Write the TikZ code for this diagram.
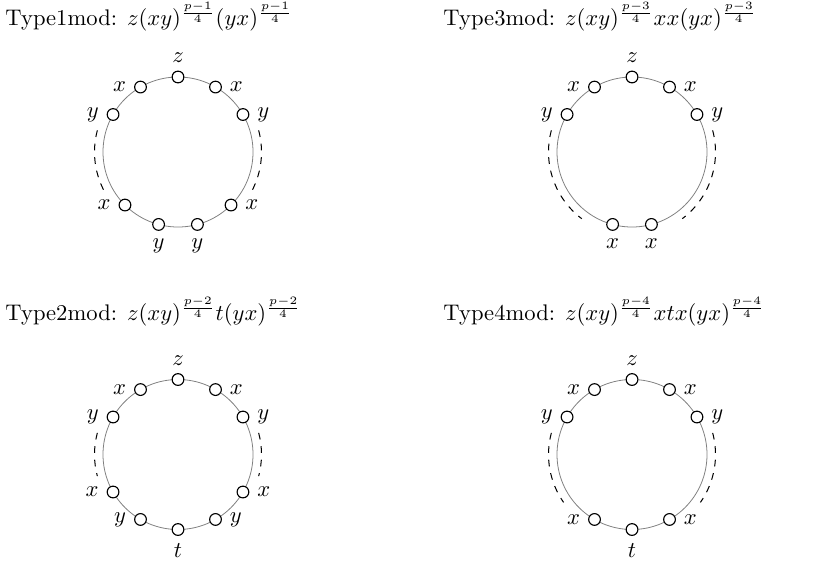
\documentclass[tikz,border=0pt]{standalone}
\begin{document}
\begin{tikzpicture}[x=0.443pt,y=0.443pt,
  vert/.style={circle,draw=black,fill=white,line width=0.5pt,minimum size=5.2pt,inner sep=0pt},
  ring/.style={draw=gray,line width=0.35pt},
  dasharc/.style={draw=black,dashed,line width=0.45pt},
  title/.style={anchor=north west,inner sep=0pt}]
\useasboundingbox (0,0) rectangle (818,565);
\def\R{75}
\def\D{83.5}
% ---------- Type 1 ----------
\node[title] (t1) at (5,563) {Type1mod: $z(xy)^{\frac{p-1}{4}}(yx)^{\frac{p-1}{4}}$};
\coordinate (A) at (178,413);
\draw[ring] (A) circle[radius=\R];
\draw[dasharc] ([shift={(165:\D)}]A) arc[start angle=165,end angle=210,radius=\D];
\draw[dasharc] ([shift={(15:\D)}]A) arc[start angle=15,end angle=-30,radius=\D];
\node[vert,label=above:$z$] (A0) at ([shift={(90:\R)}]A) {};
\node[vert,label=left:$x$] (A1) at ([shift={(120:\R)}]A) {};
\node[vert,label=left:$y$] (A2) at ([shift={(150:\R)}]A) {};
\node[vert,label=right:$x$] (A3) at ([shift={(60:\R)}]A) {};
\node[vert,label=right:$y$] (A4) at ([shift={(30:\R)}]A) {};
\node[vert,label=left:$x$] (A5) at ([shift={(-135:\R)}]A) {};
\node[vert,label=below:$y$] (A6) at ([shift={(-105:\R)}]A) {};
\node[vert,label=below:$y$] (A7) at ([shift={(-75:\R)}]A) {};
\node[vert,label=right:$x$] (A8) at ([shift={(-45:\R)}]A) {};
% ---------- Type 3 ----------
\node[title] (t3) at (443,563) {Type3mod: $z(xy)^{\frac{p-3}{4}}xx(yx)^{\frac{p-3}{4}}$};
\coordinate (B) at (632,413);
\draw[ring] (B) circle[radius=\R];
\draw[dasharc] ([shift={(165:\D)}]B) arc[start angle=165,end angle=233,radius=\D];
\draw[dasharc] ([shift={(15:\D)}]B) arc[start angle=15,end angle=-53,radius=\D];
\node[vert,label=above:$z$] (B0) at ([shift={(90:\R)}]B) {};
\node[vert,label=left:$x$] (B1) at ([shift={(120:\R)}]B) {};
\node[vert,label=left:$y$] (B2) at ([shift={(150:\R)}]B) {};
\node[vert,label=right:$x$] (B3) at ([shift={(60:\R)}]B) {};
\node[vert,label=right:$y$] (B4) at ([shift={(30:\R)}]B) {};
\node[vert,label=below:$x$] (B5) at ([shift={(-105:\R)}]B) {};
\node[vert,label=below:$x$] (B6) at ([shift={(-75:\R)}]B) {};
% ---------- Type 2 ----------
\node[title] (t2) at (5,268) {Type2mod: $z(xy)^{\frac{p-2}{4}}t(yx)^{\frac{p-2}{4}}$};
\coordinate (C) at (178,110.5);
\draw[ring] (C) circle[radius=\R];
\draw[dasharc] ([shift={(165:\D)}]C) arc[start angle=165,end angle=195,radius=\D];
\draw[dasharc] ([shift={(15:\D)}]C) arc[start angle=15,end angle=-15,radius=\D];
\node[vert,label=above:$z$] (C0) at ([shift={(90:\R)}]C) {};
\node[vert,label=left:$x$] (C1) at ([shift={(120:\R)}]C) {};
\node[vert,label=left:$y$] (C2) at ([shift={(150:\R)}]C) {};
\node[vert,label=right:$x$] (C3) at ([shift={(60:\R)}]C) {};
\node[vert,label=right:$y$] (C4) at ([shift={(30:\R)}]C) {};
\node[vert,label=left:$x$] (C5) at ([shift={(-150:\R)}]C) {};
\node[vert,label=left:$y$] (C6) at ([shift={(-120:\R)}]C) {};
\node[vert,label=below:$t$] (C7) at ([shift={(-90:\R)}]C) {};
\node[vert,label=right:$y$] (C8) at ([shift={(-60:\R)}]C) {};
\node[vert,label=right:$x$] (C9) at ([shift={(-30:\R)}]C) {};
% ---------- Type 4 ----------
\node[title] (t4) at (443,268) {Type4mod: $z(xy)^{\frac{p-4}{4}}xtx(yx)^{\frac{p-4}{4}}$};
\coordinate (D) at (632,110.5);
\draw[ring] (D) circle[radius=\R];
\draw[dasharc] ([shift={(165:\D)}]D) arc[start angle=165,end angle=215,radius=\D];
\draw[dasharc] ([shift={(15:\D)}]D) arc[start angle=15,end angle=-35,radius=\D];
\node[vert,label=above:$z$] (D0) at ([shift={(90:\R)}]D) {};
\node[vert,label=left:$x$] (D1) at ([shift={(120:\R)}]D) {};
\node[vert,label=left:$y$] (D2) at ([shift={(150:\R)}]D) {};
\node[vert,label=right:$x$] (D3) at ([shift={(60:\R)}]D) {};
\node[vert,label=right:$y$] (D4) at ([shift={(30:\R)}]D) {};
\node[vert,label=left:$x$] (D5) at ([shift={(-120:\R)}]D) {};
\node[vert,label=below:$t$] (D6) at ([shift={(-90:\R)}]D) {};
\node[vert,label=right:$x$] (D7) at ([shift={(-60:\R)}]D) {};
\end{tikzpicture}
\end{document}
